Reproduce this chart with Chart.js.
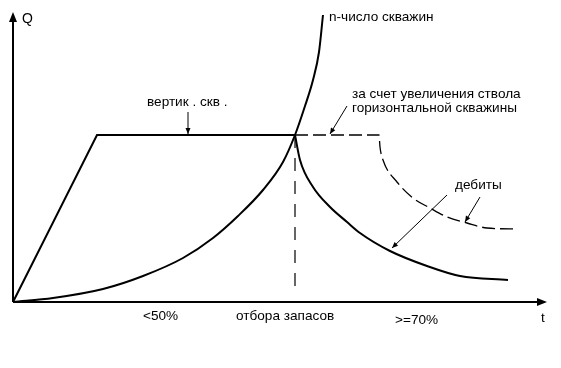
<!DOCTYPE html>
<html><head><meta charset="utf-8">
<script src="https://cdn.jsdelivr.net/npm/chart.js@4/dist/chart.umd.min.js"></script>
<style>html,body{margin:0;padding:0;background:#fff}#wrap{width:561px;height:368px}</style>
</head><body><div id="wrap"><canvas id="c"></canvas></div>
<script>
// Schematic values (t, Q)
const plateauT = [0, 84, 282];
const plateauQ = [0, 167, 167];
const declineT = [282, 287, 300, 317, 334, 347, 377, 414, 447, 495];
const declineQ = [167, 142, 115, 95, 80, 69, 51, 36, 26, 22];
const wellsT = [0, 40, 90, 130, 170, 200, 225, 250, 270, 282, 292, 300, 306, 310];
const wellsQ = [0, 4, 13, 26, 44, 64, 86, 112, 140, 167, 196, 222, 250, 287];
const horizT = [282, 366, 367, 370, 384, 400, 417, 434, 454, 474, 505];
const horizQ = [167, 167, 155, 142, 120, 104, 94, 85, 79, 74, 73];
const splitT = [282, 282];
const splitQ = [167, 7];
const axisMaxT = 534, axisMaxQ = 290;
const labels = [
  {text: 'Q', t: 9, q: 283, size: 14},
  {text: 'n-число скважин', t: 316, q: 285},
  {text: 'за счет увеличения ствола', t: 339, q: 208},
  {text: 'горизонтальной скважины', t: 339, q: 194},
  {text: 'вертик . скв .', t: 134, q: 200},
  {text: 'дебиты', t: 442, q: 117},
  {text: '<50%', t: 130, q: -14},
  {text: 'отбора запасов', t: 223, q: -14},
  {text: '>=70%', t: 382, q: -18},
  {text: 't', t: 528, q: -16}
];
const pointers = [
  {t0: 175, q0: 190, t1: 175, q1: 168},
  {t0: 334, q0: 196, t1: 317, q1: 168},
  {t0: 434, q0: 107, t1: 379, q1: 54},
  {t0: 467, q0: 105, t1: 452, q1: 80}
];
const pts = (xs, ys) => xs.map((x, i) => ({x, y: ys[i]}));

function arrowHead(ctx, x0, y0, x1, y1, len, half) {
  const a = Math.atan2(y1 - y0, x1 - x0);
  ctx.beginPath();
  ctx.moveTo(x1, y1);
  ctx.lineTo(x1 - len * Math.cos(a) + half * Math.sin(a), y1 - len * Math.sin(a) - half * Math.cos(a));
  ctx.lineTo(x1 - len * Math.cos(a) - half * Math.sin(a), y1 - len * Math.sin(a) + half * Math.cos(a));
  ctx.closePath();
  ctx.fill();
}

const deco = {
  id: 'deco',
  afterDatasetsDraw(chart) {
    const ctx = chart.ctx, sx = chart.scales.x, sy = chart.scales.y;
    const X = v => sx.getPixelForValue(v), Y = v => sy.getPixelForValue(v);
    ctx.save();
    ctx.strokeStyle = '#000'; ctx.fillStyle = '#000';
    ctx.lineWidth = 2;
    ctx.beginPath();
    ctx.moveTo(X(0), Y(0)); ctx.lineTo(X(axisMaxT) - 6, Y(0));
    ctx.moveTo(X(0), Y(0)); ctx.lineTo(X(0), Y(axisMaxQ) + 6);
    ctx.stroke();
    arrowHead(ctx, X(0), Y(0), X(axisMaxT), Y(0), 10, 4);
    arrowHead(ctx, X(0), Y(0), X(0), Y(axisMaxQ), 10, 4);
    ctx.lineWidth = 1;
    pointers.forEach(p => {
      const x0 = X(p.t0), y0 = Y(p.q0), x1 = X(p.t1), y1 = Y(p.q1);
      ctx.beginPath(); ctx.moveTo(x0, y0); ctx.lineTo(x1, y1); ctx.stroke();
      arrowHead(ctx, x0, y0, x1, y1, 6, 2.5);
    });
    ctx.textBaseline = 'middle'; ctx.textAlign = 'left';
    labels.forEach(l => {
      ctx.font = (l.size || 13.6) + 'px "Liberation Sans", Arial, sans-serif';
      ctx.fillText(l.text, X(l.t), Y(l.q));
    });
    ctx.restore();
  }
};

new Chart(document.getElementById('c'), {
  type: 'line',
  data: {
    datasets: [
      {data: pts(plateauT, plateauQ), borderColor: '#000', borderWidth: 2, tension: 0},
      {data: pts(declineT, declineQ), borderColor: '#000', borderWidth: 2, cubicInterpolationMode: 'monotone'},
      {data: pts(wellsT, wellsQ), borderColor: '#000', borderWidth: 2, cubicInterpolationMode: 'monotone'},
      {data: pts(horizT, horizQ), borderColor: '#000', borderWidth: 1.3, borderDash: [13, 5], cubicInterpolationMode: 'monotone'},
      {data: pts(splitT, splitQ), borderColor: '#000', borderWidth: 1.2, borderDash: [13, 10], tension: 0}
    ]
  },
  options: {
    animation: false, responsive: true, maintainAspectRatio: false,
    layout: {padding: 0},
    elements: {point: {radius: 0}},
    plugins: {legend: {display: false}, tooltip: {enabled: false}},
    scales: {
      x: {type: 'linear', min: -13, max: 548, display: false},
      y: {type: 'linear', min: -66, max: 302, display: false}
    }
  },
  plugins: [deco]
});
</script></body></html>
